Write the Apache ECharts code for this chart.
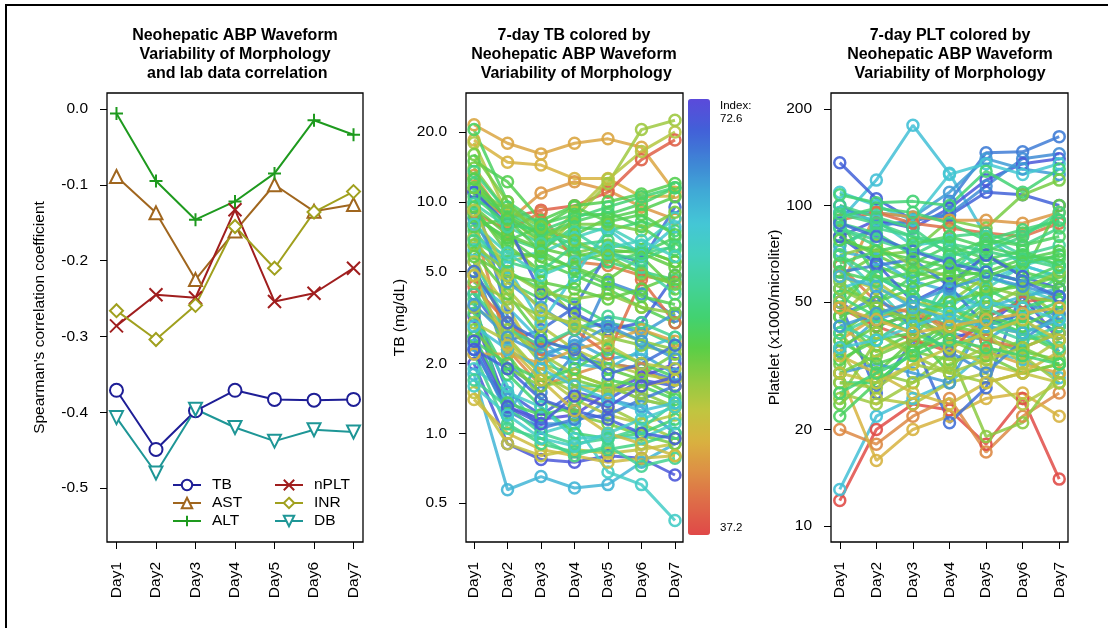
<!DOCTYPE html>
<html>
<head>
<meta charset="utf-8">
<title>Neohepatic ABP Waveform</title>
<script src="https://cdn.jsdelivr.net/npm/echarts@6/dist/echarts.min.js"></script>
<style>
  html, body { margin: 0; padding: 0; background: #fff; }
  #chart { width: 1108px; height: 628px; }
</style>
</head>
<body>
<div id="chart"></div>
<script>
// days on the x axis
var days = ['Day1', 'Day2', 'Day3', 'Day4', 'Day5', 'Day6', 'Day7'];

// panel 1: spearman correlation per lab value
var corrTB   = [-0.371, -0.449, -0.398, -0.371, -0.383, -0.384, -0.383];
var corrAST  = [-0.089, -0.137, -0.225, -0.161, -0.100, -0.135, -0.126];
var corrALT  = [-0.006, -0.095, -0.146, -0.122, -0.085, -0.015, -0.034];
var corrNPLT = [-0.286, -0.245, -0.249, -0.133, -0.254, -0.243, -0.210];
var corrINR  = [-0.266, -0.304, -0.259, -0.155, -0.210, -0.136, -0.109];
var corrDB   = [-0.407, -0.480, -0.396, -0.420, -0.438, -0.423, -0.426];

var corrTicks = [-0.5, -0.4, -0.3, -0.2, -0.1, 0.0];
var tbTicks = [0.5, 1, 2, 5, 10, 20];
var pltTicks = [10, 20, 50, 100, 200];

// colour index range
var idxMin = 37.2;
var idxMax = 72.6;

// panel 2: TB (mg/dL) per patient, and its index
var tbIndex = [44, 45, 43, 39, 49, 48, 53, 54, 51, 55,
               68, 70, 66, 71, 64, 61, 54, 52, 55, 50,
               49, 47, 46, 42, 41, 69, 67, 72, 65, 63,
               60, 55, 53, 52, 51, 56, 57, 50, 48, 52,
               59, 54, 55, 51, 66, 70, 62, 47, 48, 44,
               40, 56, 53, 52, 61, 57, 50, 54, 68, 51,
               55, 53, 56, 52, 50, 49, 54, 57, 63, 66,
               70, 71, 69, 60, 58, 51, 48, 46, 53, 61];
var tbLines = [
  [21.5, 17.9, 16.1, 17.9, 18.7, 17.2, 11.0],
  [18.5, 14.8, 14.4, 12.6, 12.6, 10.5, 10.6],
  [13.0, 8.2, 10.9, 12.2, 11.2, 9.5, 8.4],
  [11.0, 8.5, 9.2, 9.6, 11.0, 15.2, 18.5],
  [8.0, 5.5, 6.0, 8.5, 12.0, 20.5, 22.5],
  [18.0, 8.8, 6.5, 9.0, 12.5, 16.5, 20.0],
  [15.0, 12.2, 8.3, 9.6, 10.0, 10.8, 12.0],
  [20.5, 10.0, 8.0, 8.8, 8.8, 9.8, 11.5],
  [14.0, 9.0, 7.0, 6.0, 6.5, 6.2, 5.5],
  [12.0, 7.0, 6.2, 7.8, 7.5, 8.2, 7.5],
  [11.0, 3.2, 2.2, 2.1, 2.0, 1.9, 1.7],
  [3.5, 1.5, 1.2, 1.5, 1.4, 1.7, 1.6],
  [2.6, 1.4, 1.1, 1.1, 1.4, 1.3, 1.0],
  [2.0, 0.9, 0.77, 0.75, 0.8, 0.78, 0.66],
  [1.8, 0.57, 0.65, 0.58, 0.6, 0.75, 0.9],
  [3.0, 1.6, 1.0, 1.1, 0.68, 0.6, 0.42],
  [6.5, 4.5, 3.8, 4.5, 5.5, 6.0, 7.0],
  [9.0, 6.5, 5.0, 5.5, 6.0, 6.2, 5.5],
  [7.5, 5.0, 4.2, 3.6, 3.0, 2.8, 2.4],
  [5.0, 3.0, 2.0, 1.8, 1.6, 1.5, 1.3],
  [6.0, 2.6, 1.8, 1.5, 1.3, 1.1, 0.95],
  [1.5, 0.9, 0.8, 0.85, 0.82, 0.85, 0.9],
  [1.4, 1.0, 0.85, 0.8, 0.75, 0.78, 0.8],
  [8.0, 2.3, 1.6, 1.8, 2.0, 1.9, 1.6],
  [9.0, 7.5, 9.0, 5.5, 5.3, 4.8, 4.5],
  [4.0, 2.5, 2.8, 3.5, 6.0, 5.5, 9.5],
  [5.5, 2.0, 1.5, 2.2, 4.5, 4.0, 3.2],
  [3.2, 1.3, 1.15, 1.2, 1.5, 1.75, 2.0],
  [2.4, 1.2, 2.1, 2.5, 2.1, 2.2, 1.8],
  [4.5, 3.5, 2.5, 2.0, 1.9, 2.3, 2.6],
  [7.0, 5.8, 6.0, 7.0, 7.8, 6.5, 8.5],
  [10.0, 9.5, 8.0, 6.0, 5.5, 5.0, 4.6],
  [8.5, 7.0, 5.5, 4.8, 4.2, 3.5, 3.0],
  [6.0, 4.0, 2.6, 2.2, 1.9, 1.7, 1.45],
  [4.8, 2.2, 1.4, 1.2, 1.1, 0.98, 0.9],
  [3.8, 1.1, 0.9, 0.83, 0.85, 0.9, 1.0],
  [2.2, 1.05, 0.95, 0.8, 0.88, 0.72, 0.78],
  [12.5, 7.5, 4.5, 3.2, 2.8, 2.5, 2.3],
  [7.0, 4.2, 2.9, 2.3, 2.0, 1.8, 1.7],
  [9.5, 6.0, 5.8, 5.2, 4.6, 5.8, 4.2],
  [5.5, 3.0, 2.2, 1.6, 1.6, 1.4, 1.3],
  [11.5, 8.6, 7.2, 8.2, 9.0, 7.8, 6.2],
  [3.3, 1.8, 1.3, 1.0, 0.95, 1.0, 1.15],
  [2.8, 1.9, 1.6, 1.7, 1.55, 1.8, 2.2],
  [8.5, 4.5, 3.5, 2.8, 3.0, 2.7, 3.3],
  [11.0, 8.0, 4.0, 3.3, 2.8, 3.0, 4.8],
  [6.2, 5.2, 3.0, 4.8, 7.6, 5.9, 7.8],
  [5.5, 3.5, 2.0, 1.6, 1.5, 1.6, 1.7],
  [3.0, 2.5, 1.8, 1.4, 1.2, 1.1, 1.2],
  [2.2, 2.2, 2.0, 2.3, 2.5, 2.8, 2.5],
  [4.3, 3.0, 2.3, 2.8, 2.2, 4.6, 3.0],
  [13.5, 9.0, 7.5, 6.5, 6.0, 5.6, 6.5],
  [7.8, 8.5, 6.8, 7.2, 8.5, 9.2, 10.5],
  [9.5, 7.2, 6.3, 5.8, 6.2, 6.0, 5.2],
  [1.9, 1.5, 1.3, 0.95, 0.97, 0.95, 1.1],
  [4.0, 2.8, 2.4, 2.8, 3.2, 3.0, 2.6],
  [6.5, 5.0, 4.1, 3.8, 4.0, 3.5, 3.3],
  [2.6, 1.35, 1.2, 1.3, 1.7, 1.6, 1.4],
  [2.3, 1.25, 1.05, 1.15, 1.2, 1.4, 1.6],
  [16.0, 10.0, 7.0, 8.0, 8.0, 7.5, 9.0],
  [10.5, 8.0, 7.5, 8.5, 9.5, 10.5, 11.5],
  [8.8, 6.8, 7.8, 9.5, 8.2, 8.8, 7.2],
  [6.8, 5.5, 5.0, 6.5, 6.8, 6.0, 6.4],
  [5.8, 4.8, 4.5, 4.2, 3.8, 4.2, 4.8],
  [4.5, 3.8, 3.2, 3.0, 2.6, 2.4, 2.2],
  [3.5, 2.8, 2.2, 1.8, 1.6, 1.4, 1.3],
  [2.5, 2.0, 1.7, 1.9, 2.3, 2.0, 1.75],
  [1.7, 1.3, 1.0, 0.9, 0.95, 1.05, 1.35],
  [2.9, 2.3, 1.9, 1.6, 1.4, 1.25, 1.35],
  [3.6, 2.6, 2.2, 2.4, 2.9, 2.5, 2.1],
  [2.3, 1.9, 1.4, 1.25, 1.15, 1.0, 0.95],
  [2.5, 1.3, 1.1, 1.45, 1.3, 1.6, 1.75],
  [5.0, 3.0, 2.5, 2.3, 1.8, 2.0, 2.4],
  [8.0, 6.0, 4.8, 5.5, 6.3, 6.8, 5.8],
  [9.8, 7.8, 6.6, 7.4, 6.0, 5.2, 4.0],
  [11.5, 9.2, 7.8, 6.8, 5.8, 4.9, 4.4],
  [9.2, 4.8, 3.4, 2.9, 2.4, 2.0, 1.9],
  [4.8, 2.4, 1.7, 1.25, 1.0, 0.9, 0.8],
  [12.5, 8.4, 6.1, 5.1, 4.4, 3.9, 3.6],
  [1.6, 1.2, 0.95, 0.88, 1.0, 1.15, 1.3]
];

// panel 3: platelets (x1000/microliter) per patient, and its index
var pltIndex = [63, 70, 68, 71, 67, 66, 62, 55, 51, 43,
                40, 37.5, 63, 42, 45, 50, 69, 48, 53, 54,
                56, 52, 58, 50, 60, 65, 72, 66, 55, 54,
                53, 52, 51, 49, 48, 47, 44, 41, 39, 61,
                57, 56, 55, 54, 53, 52, 51, 59, 62, 64,
                67, 68, 70, 49, 46, 56, 54, 50, 48, 53,
                54, 53, 55, 52, 56, 51, 57, 50, 58, 49,
                66, 64, 69, 62, 47, 45, 53, 55, 56, 54];
var pltLines = [
  [90, 120, 178, 126, 80, 65, 60],
  [136, 105, 90, 93, 110, 108, 100],
  [100, 88, 88, 103, 146, 147, 164],
  [80, 90, 85, 98, 120, 135, 140],
  [75, 86, 90, 94, 115, 140, 145],
  [95, 95, 92, 110, 140, 130, 125],
  [110, 100, 90, 125, 135, 125, 135],
  [108, 102, 103, 100, 128, 110, 130],
  [60, 70, 72, 90, 85, 108, 120],
  [55, 95, 92, 90, 90, 88, 95],
  [90, 95, 88, 85, 82, 80, 88],
  [12, 20, 24, 23, 18, 25, 14],
  [13, 22, 25, 28, 35, 33, 29],
  [20, 18, 22, 25, 17, 22, 26],
  [30, 16, 20, 22, 25, 26, 22],
  [40, 30, 28, 35, 19, 21, 30],
  [50, 26, 38, 21, 27, 55, 42],
  [35, 25, 24, 28, 30, 24, 28],
  [45, 35, 40, 30, 45, 40, 35],
  [90, 60, 55, 40, 50, 45, 55],
  [85, 75, 60, 70, 45, 50, 60],
  [24, 30, 38, 55, 70, 60, 100],
  [65, 45, 40, 60, 80, 70, 65],
  [25, 38, 45, 50, 60, 55, 45],
  [70, 55, 42, 45, 55, 65, 70],
  [35, 44, 48, 40, 38, 45, 35],
  [50, 42, 46, 38, 42, 52, 38],
  [30, 32, 30, 28, 45, 50, 45],
  [28, 28, 35, 45, 55, 48, 52],
  [55, 50, 60, 65, 75, 82, 90],
  [48, 65, 58, 62, 70, 62, 58],
  [40, 48, 42, 50, 38, 35, 33],
  [32, 40, 35, 33, 34, 38, 40],
  [28, 27, 32, 30, 28, 30, 32],
  [60, 55, 50, 48, 42, 40, 45],
  [42, 35, 38, 36, 32, 30, 28],
  [38, 45, 48, 40, 35, 32, 30],
  [65, 50, 46, 42, 38, 36, 40],
  [48, 42, 38, 35, 45, 50, 52],
  [95, 90, 75, 78, 60, 55, 50],
  [75, 85, 80, 72, 65, 70, 75],
  [88, 82, 70, 80, 82, 75, 85],
  [92, 98, 95, 88, 78, 84, 90],
  [52, 62, 66, 75, 68, 72, 65],
  [33, 38, 40, 55, 62, 68, 72],
  [80, 70, 62, 58, 52, 45, 42],
  [58, 48, 44, 38, 34, 30, 32],
  [42, 38, 45, 52, 48, 42, 38],
  [55, 60, 52, 48, 58, 65, 60],
  [72, 68, 58, 54, 48, 52, 55],
  [45, 52, 42, 35, 30, 38, 46],
  [62, 65, 68, 56, 42, 46, 40],
  [80, 66, 50, 57, 70, 60, 55],
  [26, 24, 28, 32, 36, 34, 28],
  [34, 30, 26, 24, 28, 30, 35],
  [100, 92, 85, 70, 72, 80, 95],
  [22, 28, 35, 42, 52, 58, 65],
  [70, 75, 65, 60, 56, 52, 50],
  [45, 58, 48, 45, 40, 32, 38],
  [38, 32, 35, 40, 45, 42, 48],
  [62, 58, 62, 70, 78, 75, 80],
  [45, 50, 55, 60, 62, 58, 55],
  [52, 45, 40, 36, 40, 45, 50],
  [36, 42, 46, 50, 54, 56, 60],
  [70, 60, 52, 48, 44, 40, 36],
  [30, 34, 38, 42, 40, 36, 32],
  [85, 78, 72, 68, 62, 58, 62],
  [55, 48, 44, 40, 48, 55, 62],
  [40, 45, 50, 46, 42, 38, 42],
  [50, 40, 34, 30, 33, 36, 40],
  [42, 46, 50, 55, 60, 56, 52],
  [60, 56, 48, 44, 42, 40, 44],
  [88, 80, 72, 66, 62, 58, 52],
  [36, 38, 42, 46, 50, 48, 44],
  [30, 28, 32, 36, 40, 44, 38],
  [48, 44, 40, 42, 44, 46, 48],
  [78, 72, 68, 64, 60, 66, 70],
  [26, 30, 34, 38, 36, 34, 32],
  [94, 88, 80, 76, 72, 68, 64],
  [66, 72, 76, 80, 74, 70, 68]
];

// colour ramp, low index -> high index
var rampStops = ['#E04848', '#DE6A48', '#DD8E45', '#D9B140', '#C0C640',
                 '#8FCA42', '#5ACE46', '#42D271', '#43D298', '#44D0BC',
                 '#44C6D6', '#40AAD6', '#3F84D5', '#4260D8', '#5B4ADA'];

var FONT = '"Liberation Sans", Arial, Helvetica, sans-serif';

function hexRgb(h) {
    return [parseInt(h.substr(1, 2), 16), parseInt(h.substr(3, 2), 16), parseInt(h.substr(5, 2), 16)];
}

function indexColor(v) {
    var t = (v - idxMin) / (idxMax - idxMin) * (rampStops.length - 1);
    t = Math.max(0, Math.min(rampStops.length - 1, t));
    var i = Math.min(Math.floor(t), rampStops.length - 2);
    var f = t - i;
    var a = hexRgb(rampStops[i]), b = hexRgb(rampStops[i + 1]);
    var c = [0, 1, 2].map(function (k) { return Math.round(a[k] + (b[k] - a[k]) * f); });
    return 'rgb(' + c.join(',') + ')';
}

function toXY(vals) {
    return vals.map(function (v, j) { return [j + 1, v]; });
}

var dayNums = days.map(function (d, j) { return j + 1; });

function xAxisFor(g) {
    return {
        type: 'value', gridIndex: g, min: 0.76, max: 7.24,
        axisLine: { show: false, onZero: false },
        splitLine: { show: false },
        axisTick: { customValues: dayNums, length: 7, lineStyle: { color: '#000', width: 1 } },
        axisLabel: {
            customValues: dayNums, rotate: 90, margin: 20,
            fontSize: 15.5, color: '#000', fontFamily: FONT,
            formatter: function (v) { return days[Math.round(v) - 1]; }
        }
    };
}

function yAxisFor(g, type, min, max, ticks, fmt, name, gap) {
    return {
        type: type, gridIndex: g, min: min, max: max, logBase: 10,
        name: name, nameLocation: 'middle', nameGap: gap,
        nameTextStyle: { fontSize: 15.5, color: '#000', fontFamily: FONT },
        axisLine: { show: false, onZero: false },
        splitLine: { show: false },
        minorTick: { show: false },
        axisTick: { customValues: ticks, length: 7, lineStyle: { color: '#000', width: 1 } },
        axisLabel: {
            customValues: ticks, margin: 19,
            fontSize: 15.5, color: '#000', fontFamily: FONT,
            formatter: fmt
        }
    };
}

var plusPath = 'path://M5,0L5,10M0,5L10,5';
var crossPath = 'path://M0,0L10,10M10,0L0,10';

function corrSeries(name, data, color, symbol, rotate) {
    return {
        name: name, type: 'line', xAxisIndex: 0, yAxisIndex: 0,
        data: toXY(data),
        symbol: symbol, symbolSize: 13, symbolRotate: rotate || 0,
        lineStyle: { color: color, width: 2 },
        itemStyle: { color: color, borderColor: color, borderWidth: 2 },
        emphasis: { disabled: true },
        z: 3
    };
}

var series = [
    corrSeries('TB', corrTB, '#1E1E96', 'emptyCircle'),
    corrSeries('AST', corrAST, '#A0661E', 'emptyTriangle'),
    corrSeries('ALT', corrALT, '#1E9A1E', plusPath),
    corrSeries('nPLT', corrNPLT, '#A01E1E', crossPath),
    corrSeries('INR', corrINR, '#A0A01E', 'emptyDiamond'),
    corrSeries('DB', corrDB, '#1E9696', 'emptyTriangle', 180)
];

function patientSeries(g, vals, idx) {
    var c = indexColor(idx);
    return {
        type: 'line', xAxisIndex: g, yAxisIndex: g,
        data: toXY(vals),
        symbol: 'circle', symbolSize: 11,
        lineStyle: { color: c, width: 3, opacity: 0.85 },
        itemStyle: { color: 'rgba(0,0,0,0)', borderColor: c, borderWidth: 2.5, opacity: 0.9 },
        emphasis: { disabled: true },
        silent: true
    };
}

tbLines.forEach(function (vals, k) { series.push(patientSeries(1, vals, tbIndex[k])); });
pltLines.forEach(function (vals, k) { series.push(patientSeries(2, vals, pltIndex[k])); });

var chart = echarts.init(document.getElementById('chart'), null, { renderer: 'canvas' });

var legendText = { fontSize: 15.5, color: '#000', fontFamily: FONT, padding: [0, 0, 0, 6] };

var option = {
    animation: false,
    backgroundColor: '#fff',
    textStyle: { fontFamily: FONT },
    title: [
        { text: 'Neohepatic ABP Waveform\nVariability of Morphology\n and lab data correlation', left: 235, top: 26, textAlign: 'center', padding: 0,
          textStyle: { fontSize: 16, fontWeight: 'bold', lineHeight: 19, color: '#000', fontFamily: FONT } },
        { text: '7-day TB colored by\nNeohepatic ABP Waveform\n Variability of Morphology', left: 574, top: 26, textAlign: 'center', padding: 0,
          textStyle: { fontSize: 16, fontWeight: 'bold', lineHeight: 19, color: '#000', fontFamily: FONT } },
        { text: '7-day PLT colored by\nNeohepatic ABP Waveform\nVariability of Morphology', left: 950, top: 26, textAlign: 'center', padding: 0,
          textStyle: { fontSize: 16, fontWeight: 'bold', lineHeight: 19, color: '#000', fontFamily: FONT } }
    ],
    legend: [
        { data: ['TB', 'AST', 'ALT'], orient: 'vertical', left: 172, top: 477, itemWidth: 28, itemHeight: 13, itemGap: 2,
          selectedMode: false, textStyle: legendText, padding: 0 },
        { data: ['nPLT', 'INR', 'DB'], orient: 'vertical', left: 274, top: 477, itemWidth: 28, itemHeight: 13, itemGap: 2,
          selectedMode: false, textStyle: legendText, padding: 0 }
    ],
    grid: [
        { left: 107, top: 93, width: 256, height: 449, show: true, borderColor: '#000', borderWidth: 1.3, backgroundColor: 'transparent' },
        { left: 466, top: 93, width: 217, height: 449, show: true, borderColor: '#000', borderWidth: 1.3, backgroundColor: 'transparent' },
        { left: 831, top: 93, width: 237, height: 449, show: true, borderColor: '#000', borderWidth: 1.3, backgroundColor: 'transparent' }
    ],
    xAxis: [xAxisFor(0), xAxisFor(1), xAxisFor(2)],
    yAxis: [
        yAxisFor(0, 'value', -0.571, 0.021, corrTicks, function (v) { return v.toFixed(1); }, "Spearman's correlation coefficient", 59),
        yAxisFor(1, 'log', 0.339, 29.5, tbTicks, function (v) { return v.toFixed(1); }, 'TB (mg/dL)', 58),
        yAxisFor(2, 'log', 8.91, 224.4, pltTicks, function (v) { return String(Math.round(v)); }, 'Platelet (x1000/microliter)', 48)
    ],
    visualMap: {
        type: 'continuous', min: idxMin, max: idxMax, seriesIndex: [],
        orient: 'vertical', left: 688, top: 99, itemWidth: 22, itemHeight: 436,
        calculable: false, padding: 0, hoverLink: false,
        inRange: { color: rampStops }
    },
    graphic: [
        { type: 'rect', shape: { x: 6, y: 5, width: 1300, height: 900 }, style: { fill: 'none', stroke: '#000', lineWidth: 2 }, silent: true },
        { type: 'text', x: 720, y: 100, style: { text: 'Index:', fontSize: 11.5, fill: '#000', fontFamily: FONT } },
        { type: 'text', x: 720, y: 113, style: { text: '72.6', fontSize: 11.5, fill: '#000', fontFamily: FONT } },
        { type: 'text', x: 720, y: 522, style: { text: '37.2', fontSize: 11.5, fill: '#000', fontFamily: FONT } }
    ],
    series: series
};

chart.setOption(option);
</script>
</body>
</html>
